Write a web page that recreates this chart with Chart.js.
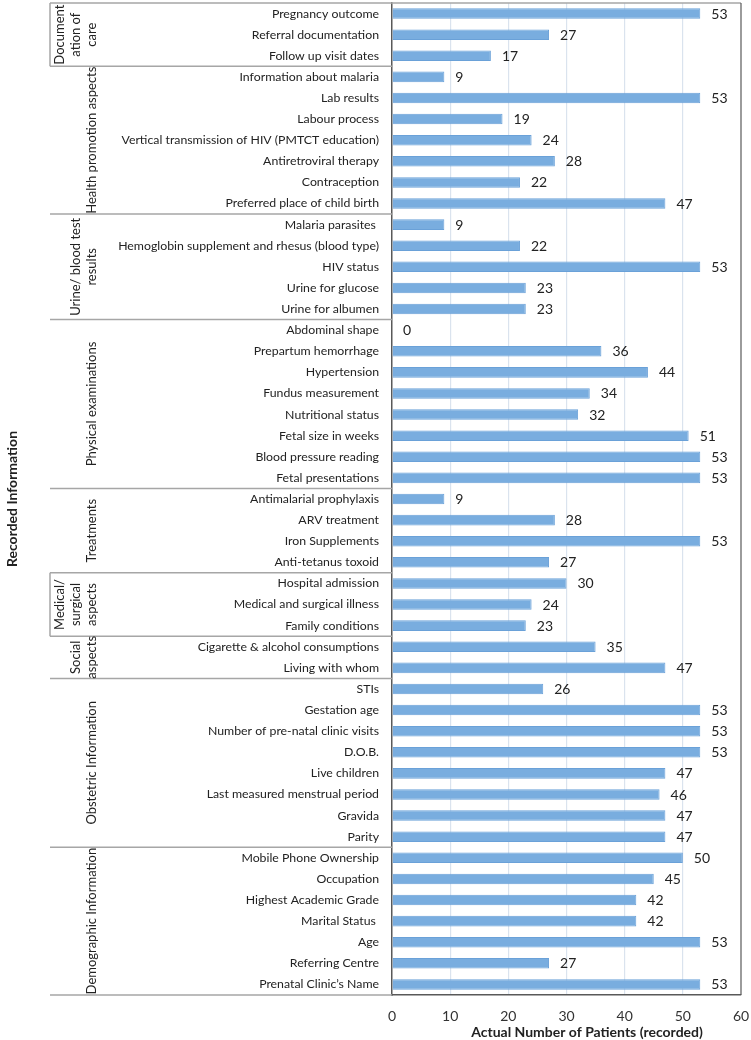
<!DOCTYPE html>
<html>
<head>
<meta charset="utf-8">
<script src="https://cdn.jsdelivr.net/npm/chart.js@4"></script>
<style>
html,body{margin:0;padding:0;background:#fff;}
canvas{display:block;}
</style>
</head>
<body>
<canvas id="c" width="751" height="1040" style="width:751px;height:1040px;"></canvas>
<script>
const categories = [
  "Pregnancy outcome","Referral documentation","Follow up visit dates",
  "Information about malaria","Lab results","Labour process","Vertical transmission of HIV (PMTCT education)","Antiretroviral therapy","Contraception","Preferred place of child birth",
  "Malaria parasites ","Hemoglobin supplement and rhesus (blood type)","HIV status","Urine for glucose","Urine for albumen",
  "Abdominal shape","Prepartum hemorrhage","Hypertension","Fundus measurement","Nutritional status","Fetal size in weeks","Blood pressure reading","Fetal presentations",
  "Antimalarial prophylaxis","ARV treatment","Iron Supplements","Anti-tetanus toxoid",
  "Hospital admission","Medical and surgical illness","Family conditions",
  "Cigarette & alcohol consumptions","Living with whom",
  "STIs","Gestation age","Number of pre-natal clinic visits","D.O.B.","Live children","Last measured menstrual period","Gravida","Parity",
  "Mobile Phone Ownership","Occupation","Highest Academic Grade","Marital Status ","Age","Referring Centre","Prenatal Clinic\u2019s Name"
];
const values = [
  53,27,17,
  9,53,19,24,28,22,47,
  9,22,53,23,23,
  0,36,44,34,32,51,53,53,
  9,28,53,27,
  30,24,23,
  35,47,
  26,53,53,53,47,46,47,47,
  50,45,42,42,53,27,53
];
const groupLabels = [
  ["Document","ation of","care"],
  ["Health promotion aspects"],
  ["Urine/ blood test","results"],
  ["Physical examinations"],
  ["Treatments"],
  ["Medical/","surgical","aspects"],
  ["Social","aspects"],
  ["Obstetric Information"],
  ["Demographic Information"]
];
const groupSizes = [3,7,5,8,4,3,2,8,7];
const xTicks = [0,10,20,30,40,50,60];
const xTitle = "Actual Number of Patients (recorded)";
const yTitle = "Recorded Information";

const FONT = "Lato, 'Open Sans', sans-serif";

const decorPlugin = {
  id: 'decor',
  afterDraw(chart) {
    const ctx = chart.ctx;
    const ca = chart.chartArea;
    const ys = chart.scales.y;
    const meta = chart.getDatasetMeta(0);
    ctx.save();
    ctx.font = "14px " + FONT;
    ctx.fillStyle = "#222";
    ctx.textAlign = "left";
    ctx.textBaseline = "middle";
    meta.data.forEach((bar, i) => {
      ctx.fillText(String(values[i]), bar.x + 11, bar.y + 0.5);
    });
    ctx.strokeStyle = "#a6a6a6";
    ctx.lineWidth = 1.5;
    ctx.beginPath();
    ctx.moveTo(50, ca.top); ctx.lineTo(ca.right, ca.top);
    ctx.stroke();
    ctx.strokeStyle = "#595959";
    ctx.lineWidth = 1.2;
    ctx.beginPath();
    ctx.moveTo(ca.right, ca.top); ctx.lineTo(ca.right, ca.bottom);
    ctx.stroke();
    const step = (ys.getPixelForValue(1) - ys.getPixelForValue(0));
    let idx = 0;
    const bounds = [];
    groupSizes.forEach((n) => {
      const top = ys.getPixelForValue(idx) - step / 2;
      const bot = ys.getPixelForValue(idx + n - 1) + step / 2;
      bounds.push([top, bot]);
      idx += n;
    });
    ctx.strokeStyle = "#a6a6a6";
    ctx.lineWidth = 1.5;
    bounds.forEach(([top, bot], gi) => {
      ctx.beginPath();
      ctx.moveTo(50, bot); ctx.lineTo(ca.left, bot);
      ctx.stroke();
      if (gi === 0 || gi === 5) {
        ctx.beginPath();
        ctx.moveTo(50, top); ctx.lineTo(50, bot);
        ctx.stroke();
      }
    });
    ctx.fillStyle = "#222";
    ctx.font = "13px " + FONT;
    ctx.textAlign = "center";
    ctx.textBaseline = "middle";
    bounds.forEach(([top, bot], gi) => {
      const lines = groupLabels[gi];
      const mid = (top + bot) / 2;
      lines.forEach((ln, li) => {
        const x = 91.5 - (lines.length - 1 - li) * 15.8;
        ctx.save();
        ctx.translate(x, mid);
        ctx.rotate(-Math.PI / 2);
        ctx.fillText(ln, 0, 0);
        ctx.restore();
      });
    });
    ctx.font = "bold 14px " + FONT;
    ctx.fillStyle = "#222";
    ctx.save();
    ctx.translate(12, (ca.top + ca.bottom) / 2);
    ctx.rotate(-Math.PI / 2);
    ctx.fillText(yTitle, 0, 0);
    ctx.restore();
    ctx.fillText(xTitle, 587, 1032);
    ctx.restore();
  }
};

new Chart(document.getElementById('c'), {
  type: 'bar',
  data: {
    labels: categories,
    datasets: [{
      data: values,
      backgroundColor: '#79addf',
      borderColor: '#6aa1d8',
      borderWidth: 1,
      categoryPercentage: 1,
      barPercentage: 0.5
    }]
  },
  options: {
    indexAxis: 'y',
    responsive: false,
    animation: false,
    devicePixelRatio: 1,
    layout: { padding: { top: 3, right: 10, left: 0, bottom: 0 } },
    plugins: { legend: { display: false }, tooltip: { enabled: false } },
    scales: {
      x: {
        min: 0, max: 60,
        afterBuildTicks(scale) { scale.ticks = xTicks.map(v => ({ value: v })); },
        afterFit(scale) { scale.height = 45; scale.paddingLeft = 0; scale.paddingRight = 0; },
        grid: {
          color: (c) => (c.tick && (c.tick.value === 0 || c.tick.value === 60)) ? 'rgba(0,0,0,0)' : '#dae3ee',
          lineWidth: 1.2,
          drawTicks: false
        },
        border: { display: true, color: '#595959', width: 1.5 },
        ticks: { font: { size: 14, family: FONT }, color: '#333', padding: 13 }
      },
      y: {
        afterFit(scale) { scale.width = 392; scale.paddingTop = 0; scale.paddingBottom = 0; },
        grid: { display: false, drawTicks: false },
        border: { display: true, color: '#595959', width: 1.5 },
        ticks: { font: { size: 12.3, family: FONT }, color: '#222', padding: 13, autoSkip: false }
      }
    }
  },
  plugins: [decorPlugin]
});
</script>
</body>
</html>
